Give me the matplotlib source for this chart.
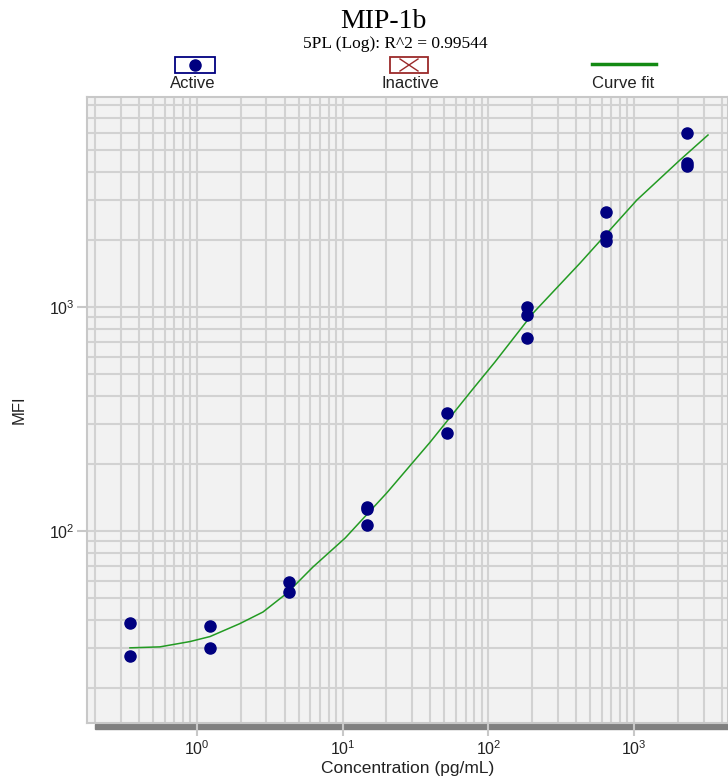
import matplotlib
matplotlib.use('Agg')
import matplotlib.pyplot as plt
from matplotlib.patches import Rectangle
from matplotlib.lines import Line2D
import numpy as np

plt.rcParams['font.family'] = 'Liberation Sans'

# standards (conc, MFI)
conc = [0.347, 0.347, 1.23, 1.23, 4.28, 4.28, 14.7, 14.7, 14.7,
        52, 52, 184, 184, 184, 642, 642, 642, 2310, 2310, 2310]
mfi = [38.8, 27.7, 37.7, 30.1, 59.2, 53.4, 128, 125, 106,
       336, 274, 1000, 921, 728, 2656, 2075, 1972, 5990, 4257, 4395]

# fitted 5PL curve
fit_x = [0.347, 0.557, 0.895, 1.23, 1.97, 2.84, 4.15, 6.26, 10.4, 20.1,
         39.8, 77.3, 111, 203, 426, 1047, 2066, 3220]
fit_y = [30.1, 30.4, 32.1, 33.8, 38.6, 43.5, 52.8, 69.1, 93.0, 148,
         249, 426, 568, 940, 1570, 3005, 4530, 5860]

W, H = 728, 776
fig = plt.figure(figsize=(W / 100, H / 100), dpi=100)
ax = fig.add_axes([87 / W, 53 / H, 641 / W, 626 / H])
ax.set_facecolor('#f2f2f2')
ax.set_xscale('log')
ax.set_yscale('log')
ax.set_xlim(0.176, 4416)
ax.set_ylim(13.9, 8660)

ax.grid(True, which='both', color='#d2d2d2', linewidth=1.5)
ax.set_axisbelow(True)
for s in ax.spines.values():
    s.set_color('#c8c8c8')
    s.set_linewidth(1.5)

ax.tick_params(which='major', color='#c8c8c8', width=1.5, labelsize=11.5,
               labelcolor='#222222')
ax.tick_params(axis='x', which='major', length=9, pad=3)
ax.tick_params(axis='y', which='major', length=7, pad=2)
ax.tick_params(which='minor', length=0)

ax.plot(fit_x, fit_y, color='#239b23', linewidth=1.1, zorder=3)
ax.plot(conc, mfi, 'o', color='#000080', markersize=8, zorder=4)

ax.set_xlabel('Concentration (pg/mL)', fontsize=12.5, color='#222222', labelpad=2)
ax.set_ylabel('MFI', fontsize=12, color='#222222', labelpad=16)

# shadow bar under the plot
fig.add_artist(Rectangle((95 / W, (H - 729) / H), (W - 95) / W, 5 / H,
                         transform=fig.transFigure, color='#808080', zorder=0))

# titles
fig.text(383 / W, 1 - 21 / H, 'MIP-1b', family='Liberation Serif',
         fontsize=20, ha='center', va='center')
fig.text(395 / W, 1 - 44 / H, '5PL (Log): R^2 = 0.99544', family='Liberation Serif',
         fontsize=12.5, ha='center', va='center')

# legend
fig.add_artist(Rectangle((175 / W, 1 - 73 / H), 40 / W, 16 / H, transform=fig.transFigure,
                         facecolor='white', edgecolor='#000080', linewidth=1.3))
fig.add_artist(Line2D([195 / W], [1 - 65 / H], marker='o', color='#000080',
                      markersize=8, transform=fig.transFigure))
fig.text(193 / W, 1 - 84 / H, 'Active', fontsize=12, ha='center', va='center',
         color='#222222')

fig.add_artist(Rectangle((390 / W, 1 - 73 / H), 38 / W, 16 / H, transform=fig.transFigure,
                         facecolor='white', edgecolor='#9b2a2a', linewidth=1.3))
fig.add_artist(Line2D([400 / W, 418 / W], [1 - 59 / H, 1 - 71 / H], color='#9b2a2a',
                      linewidth=1, transform=fig.transFigure))
fig.add_artist(Line2D([400 / W, 418 / W], [1 - 71 / H, 1 - 59 / H], color='#9b2a2a',
                      linewidth=1, transform=fig.transFigure))
fig.text(410 / W, 1 - 84 / H, 'Inactive', fontsize=12, ha='center', va='center',
         color='#222222')

fig.add_artist(Line2D([592 / W, 656 / W], [1 - 64 / H, 1 - 64 / H], color='#138a13',
                      linewidth=2.5, transform=fig.transFigure))
fig.text(623 / W, 1 - 84 / H, 'Curve fit', fontsize=12, ha='center', va='center',
         color='#222222')

plt.savefig('out.png', dpi=100)
